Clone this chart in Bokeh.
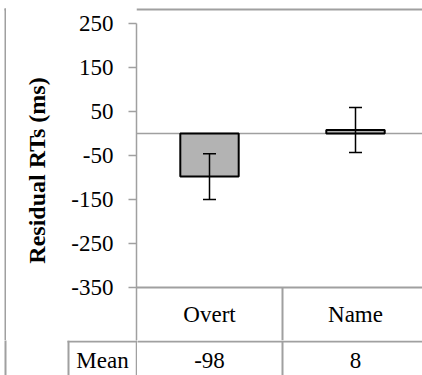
from bokeh.plotting import figure
from bokeh.layouts import column, row
from bokeh.models import (Range1d, FixedTicker, Span, Whisker, TeeHead,
                          ColumnDataSource)
from bokeh.core.properties import value
from bokeh.embed import file_html
from bokeh.resources import INLINE

# ---- data ----
categories = ["Overt", "Name"]
means = [-98, 8]
errors = [52, 51]
yticks = [250, 150, 50, -50, -150, -250, -350]
row_label = "Mean"
y_title = "Residual RTs (ms)"

# ---- layout constants (page pixels) ----
FONT = "Liberation Serif"
GRAY = "#a0a0a0"
W, H = 422, 375
AXIS_X = 136        # y axis / frame left edge
TOP = 23            # pixel of the top tick
CAT_PX = 146.0      # width of one category
PX_PER_UNIT = 0.44  # pixels per ms
BORDER_X, BORDER_Y = 5, 9
STRIP_W = 6         # left strip holding the outer border line
ROW2_Y = 340        # top of the "Mean" row
CELL_X = 68         # left edge of the "Mean" cell
y_top_tick = max(yticks)
y_bot_tick = min(yticks)


def px_to_y(py):
    return y_top_tick - (py - TOP) / PX_PER_UNIT


def px_to_x(px):
    return (px - AXIS_X) / CAT_PX


bot_px = TOP + (y_top_tick - y_bot_tick) * PX_PER_UNIT
header_y = px_to_y(bot_px + 27)
mean_y = px_to_y(360)
xs = [i + 0.5 for i in range(len(categories))]

src = ColumnDataSource(dict(x=xs, top=means,
                            upper=[m + e for m, e in zip(means, errors)],
                            lower=[m - e for m, e in zip(means, errors)],
                            cat=categories, txt=[str(m) for m in means]))


def blank(w, h, x0, x1, y0, y1):
    f = figure(width=w, height=h, output_backend="svg", toolbar_location=None,
               x_range=Range1d(px_to_x(x0), px_to_x(x1)),
               y_range=Range1d(px_to_y(y1), px_to_y(y0)),
               x_axis_location=None, y_axis_location=None,
               min_border=0, min_border_left=0, min_border_right=0,
               min_border_top=0, min_border_bottom=0)
    f.outline_line_color = None
    f.grid.visible = False
    return f


def vline(f, px, py0, py1, width=2):
    f.segment(x0=[px_to_x(px)], y0=[px_to_y(py0)], x1=[px_to_x(px)],
              y1=[px_to_y(py1)], line_color=GRAY, line_width=width)


def hline(f, py, px0, px1, width=2):
    f.segment(x0=[px_to_x(px0)], y0=[px_to_y(py)], x1=[px_to_x(px1)],
              y1=[px_to_y(py)], line_color=GRAY, line_width=width)


# ---- left strip: outer border ----
left_strip = blank(STRIP_W, ROW2_Y, 0, STRIP_W, 0, ROW2_Y)
vline(left_strip, BORDER_X, BORDER_Y - 1, ROW2_Y + 5)
hline(left_strip, BORDER_Y, BORDER_X - 1, STRIP_W + 5)

# ---- main chart ----
p = figure(width=W - STRIP_W, height=ROW2_Y, output_backend="svg",
           toolbar_location=None,
           x_range=Range1d(0, px_to_x(W)),
           y_range=Range1d(px_to_y(ROW2_Y), px_to_y(0)),
           x_axis_location=None, min_border_left=AXIS_X - STRIP_W,
           min_border_right=0, min_border_top=0, min_border_bottom=0)
p.outline_line_color = None
p.grid.visible = False

ax = p.yaxis[0]
ax.ticker = FixedTicker(ticks=yticks)
ax.major_label_overrides = {t: str(t) for t in yticks}
ax.bounds = (px_to_y(ROW2_Y), y_top_tick)
ax.axis_line_color = GRAY
ax.axis_line_width = 1.5
ax.major_tick_line_color = GRAY
ax.major_tick_line_width = 1.5
ax.major_tick_out = 8
ax.major_tick_in = 0
ax.minor_tick_line_color = None
ax.major_label_text_font = FONT
ax.major_label_text_font_size = "23px"
ax.major_label_text_color = "black"
ax.major_label_standoff = 15
ax.axis_label = y_title
ax.axis_label_text_font = FONT
ax.axis_label_text_font_style = "bold"
ax.axis_label_text_font_size = "24px"
ax.axis_label_text_color = "black"
ax.axis_label_standoff = 18

# outer border (top edge, within the plotting area)
p.add_layout(Span(location=px_to_y(BORDER_Y), dimension="width",
                  line_color=GRAY, line_width=2))
# zero line
p.add_layout(Span(location=0, dimension="width", line_color=GRAY,
                  line_width=1.5, level="underlay"))

p.vbar(x="x", top="top", bottom=0, width=0.4, source=src,
       fill_color="#b3b3b3", line_color="black", line_width=2)

p.add_layout(Whisker(base="x", upper="upper", lower="lower", source=src,
                     line_color="black", line_width=1.5, level="overlay",
                     upper_head=TeeHead(size=13, line_color="black", line_width=1.5),
                     lower_head=TeeHead(size=13, line_color="black", line_width=1.5)))

# header row of the data table
p.add_layout(Span(location=y_bot_tick, dimension="width", line_color=GRAY, line_width=2))
p.segment(x0=[1.0], y0=[y_bot_tick], x1=[1.0], y1=[px_to_y(ROW2_Y + 5)],
          line_color=GRAY, line_width=2)
p.text(x="x", y=header_y, text="cat", source=src, text_font=value(FONT),
       text_font_size="23px", text_align="center", text_baseline="middle",
       text_color="black")

# ---- "Mean" row: label cell ----
cell = blank(AXIS_X + 1, H - ROW2_Y, 0, AXIS_X + 1, ROW2_Y, H)
vline(cell, BORDER_X, ROW2_Y - 5, H + 5)
vline(cell, CELL_X, ROW2_Y, H + 5)
vline(cell, AXIS_X, ROW2_Y - 5, H + 5, width=1.5)
hline(cell, ROW2_Y + 1, CELL_X - 1, AXIS_X + 5)
cell.text(x=[px_to_x((CELL_X + AXIS_X) / 2)], y=[mean_y], text=[row_label],
          text_font=value(FONT), text_font_size="23px", text_align="center",
          text_baseline="middle", text_color="black")

# ---- "Mean" row: values ----
vals = blank(W - AXIS_X - 1, H - ROW2_Y, AXIS_X + 1, W, ROW2_Y, H)
hline(vals, ROW2_Y + 1, AXIS_X - 5, W + 5)
vals.segment(x0=[1.0], y0=[px_to_y(ROW2_Y)], x1=[1.0], y1=[px_to_y(H + 5)],
             line_color=GRAY, line_width=2)
vals.text(x="x", y=mean_y, text="txt", source=src, text_font=value(FONT),
          text_font_size="23px", text_align="center", text_baseline="middle",
          text_color="black")

layout = column(row(left_strip, p), row(cell, vals))
open("out.html", "w").write(file_html(layout, INLINE))
